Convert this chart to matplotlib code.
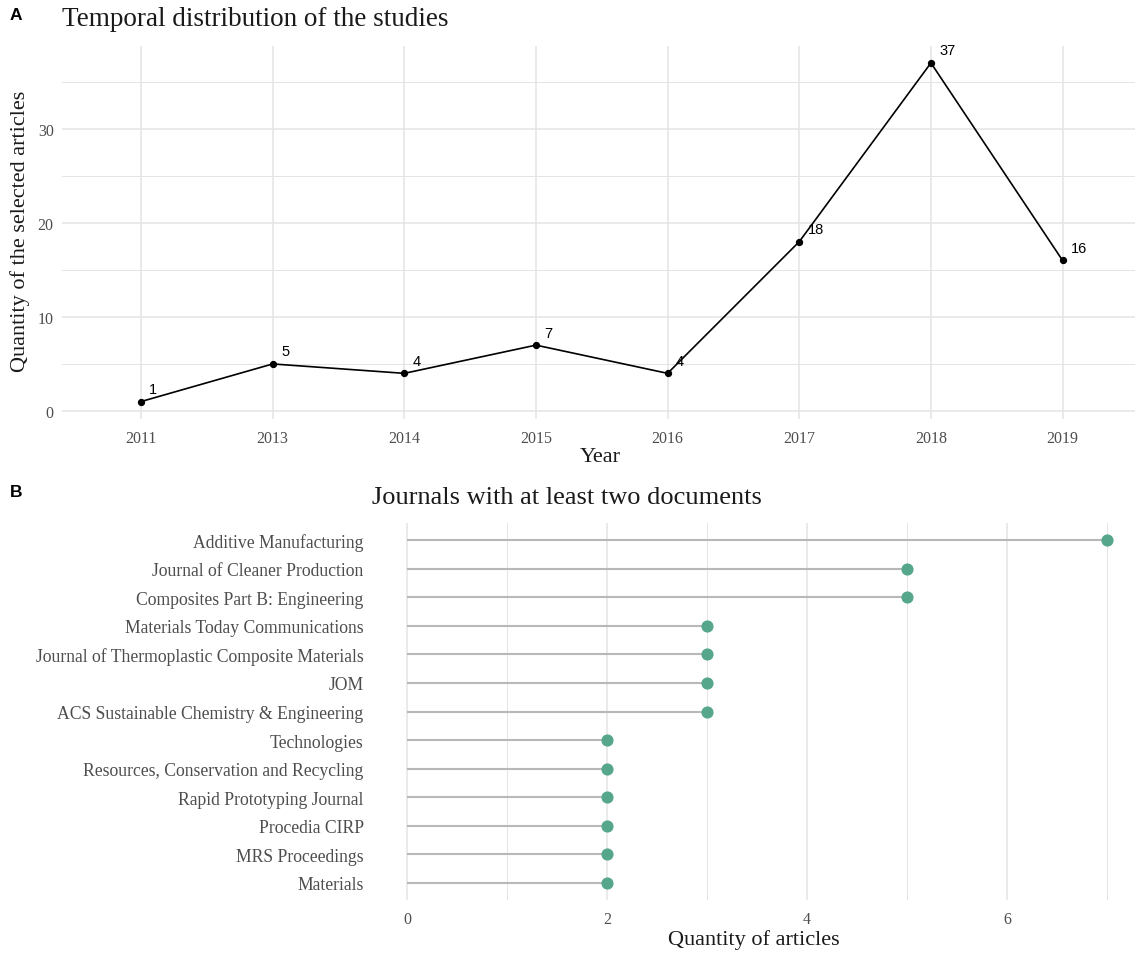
import matplotlib
matplotlib.use("Agg")
import matplotlib.pyplot as plt
from matplotlib.ticker import MultipleLocator

# panel A data
years = ["2011", "2013", "2014", "2015", "2016", "2017", "2018", "2019"]
articles_per_year = [1, 5, 4, 7, 4, 18, 37, 16]

# panel B data (top to bottom)
journals = [
    "Additive Manufacturing",
    "Journal of Cleaner Production",
    "Composites Part B: Engineering",
    "Materials Today Communications",
    "Journal of Thermoplastic Composite Materials",
    "JOM",
    "ACS Sustainable Chemistry & Engineering",
    "Technologies",
    "Resources, Conservation and Recycling",
    "Rapid Prototyping Journal",
    "Procedia CIRP",
    "MRS Proceedings",
    "Materials",
]
journal_counts = [7, 5, 5, 3, 3, 3, 3, 2, 2, 2, 2, 2, 2]

SERIF = "Liberation Serif"
SANS = "Liberation Sans"
GRID = "#e4e4e4"
TXT = "#4d4d4d"
GREEN = "#55a68b"

W, H = 1135, 954
fig = plt.figure(figsize=(W / 100, H / 100), dpi=100)


def px_axes(left, top, right, bottom):
    return fig.add_axes([left / W, 1 - bottom / H, (right - left) / W, (bottom - top) / H])


def fx(x):
    return x / W


def fy(y):
    return 1 - y / H


def clean(ax, size):
    for s in ax.spines.values():
        s.set_visible(False)
    ax.tick_params(length=0, colors=TXT, labelsize=size)
    for lab in ax.get_xticklabels() + ax.get_yticklabels():
        lab.set_fontfamily(SERIF)


# ---- Panel A ----
axA = px_axes(62, 47, 1135, 419.5)
xs = list(range(len(years)))
axA.plot(xs, articles_per_year, color="black", lw=1.2, zorder=3)
axA.scatter(xs, articles_per_year, color="black", s=18, zorder=4)
for x, v in zip(xs, articles_per_year):
    axA.annotate(str(v), (x, v), xytext=(6, 9), textcoords="offset points",
                 ha="left", va="center", fontsize=10.5, color="black", family=SANS)
axA.set_xlim(-0.6, 7.55)
axA.set_ylim(-0.8, 38.8)
axA.set_xticks(xs)
axA.set_xticklabels(years)
axA.yaxis.set_major_locator(MultipleLocator(10))
axA.yaxis.set_minor_locator(MultipleLocator(5))
axA.grid(True, which="major", color=GRID, lw=1.1, zorder=0)
axA.grid(True, which="minor", axis="y", color=GRID, lw=0.7, zorder=0)
axA.set_axisbelow(True)
axA.tick_params(axis="x", pad=8)
axA.tick_params(axis="y", pad=6)
clean(axA, 11.5)
axA.tick_params(which="minor", length=0)

fig.text(fx(62), fy(20), "Temporal distribution of the studies", family=SERIF,
         fontsize=19.5, ha="left", va="center", color="#1a1a1a")
fig.text(fx(600), fy(458), "Year", family=SERIF, fontsize=16, ha="center", va="center",
         color="#1a1a1a")
fig.text(fx(20), fy(231), "Quantity of the selected articles", family=SERIF, fontsize=16,
         rotation=90, ha="center", va="center", color="#1a1a1a")
fig.text(fx(10), fy(15), "A", family=SANS, fontsize=12.5, fontweight="bold",
         ha="left", va="center")

# ---- Panel B ----
axB = px_axes(372, 524, 1135, 901)
ys = list(range(len(journals)))
axB.hlines(ys, 0, journal_counts, color="#b8b8b8", lw=1.5, zorder=2)
axB.scatter(journal_counts, ys, color=GREEN, s=60, zorder=3)
axB.set_xlim(-0.35, 7.28)
axB.set_ylim(12.6, -0.6)
axB.set_yticks(ys)
axB.set_yticklabels(journals)
axB.xaxis.set_major_locator(MultipleLocator(2))
axB.xaxis.set_minor_locator(MultipleLocator(1))
axB.grid(True, which="major", axis="x", color=GRID, lw=1.1, zorder=0)
axB.grid(True, which="minor", axis="x", color=GRID, lw=0.7, zorder=0)
axB.set_axisbelow(True)
axB.tick_params(axis="x", pad=8)
axB.tick_params(axis="y", pad=6)
clean(axB, 11.5)
axB.tick_params(axis="y", labelsize=12.7)
axB.tick_params(which="minor", length=0)

fig.text(fx(567), fy(498), "Journals with at least two documents", family=SERIF,
         fontsize=19, ha="center", va="center", color="#1a1a1a")
fig.text(fx(754), fy(940), "Quantity of articles", family=SERIF, fontsize=16,
         ha="center", va="center", color="#1a1a1a")
fig.text(fx(10), fy(493), "B", family=SANS, fontsize=12.5, fontweight="bold",
         ha="left", va="center")

fig.savefig("out.png", dpi=100)
